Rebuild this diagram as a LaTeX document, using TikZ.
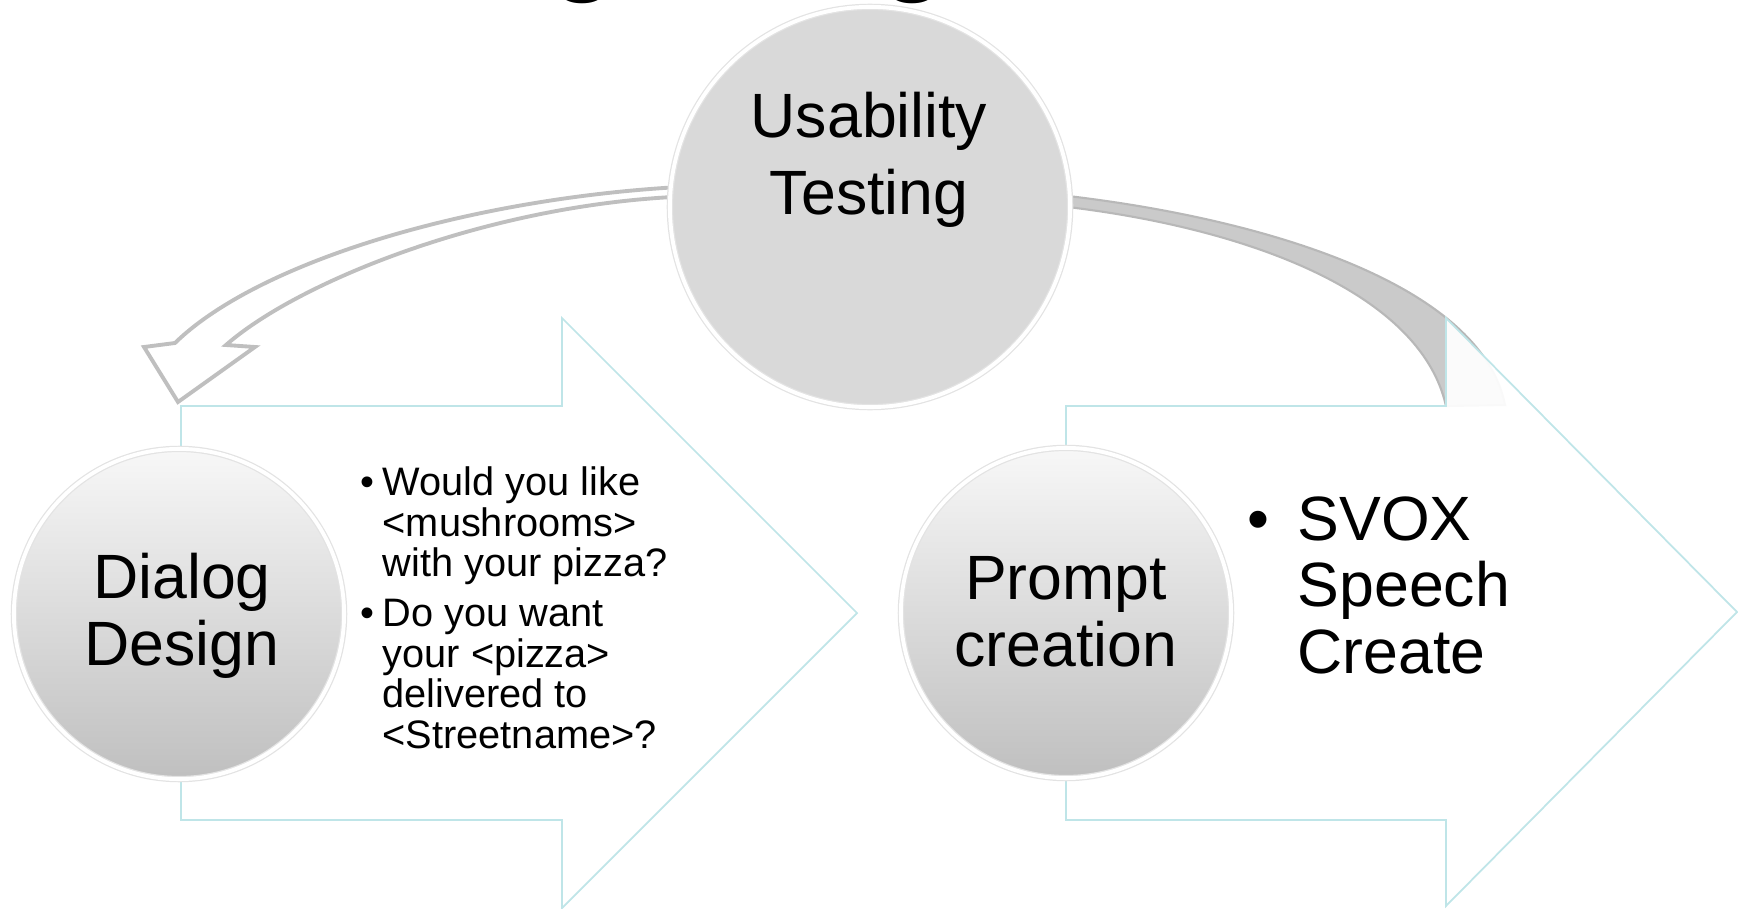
\documentclass[tikz,border=0pt]{standalone}
\usepackage{fontspec}
\setmainfont{Liberation Sans}
\usepackage{tikz}

\definecolor{arrowline}{HTML}{BFE5E8}
\definecolor{bandfill}{HTML}{CACACA}
\definecolor{bandline}{HTML}{B8B8B8}

\tikzset{
	bigarrow/.style={draw=arrowline, line width=0.5pt, fill=white, fill opacity=0.93, line join=miter},
	disc/.style={circle, inner sep=0pt, draw=gray!22, double=white, double distance=1.1pt, line width=0.35pt},
	bigtext/.style={inner sep=0pt, align=center, font=\fontsize{17.8pt}{18.8pt}\selectfont},
	smalltext/.style={inner sep=0pt, align=left, anchor=base west, font=\fontsize{11.3pt}{11.47pt}\selectfont}
}

\begin{document}
\begin{tikzpicture}[x=0.01cm, y=-0.01cm]
						\useasboundingbox (0,0) rectangle (1738,909);
						
						% Define the corners of the two big arrows
						\coordinate (A1) at (181,406);
						\coordinate (A2) at (562,406);
						\coordinate (A3) at (562,318);
						\coordinate (A4) at (857,613);
						\coordinate (A5) at (562,908);
						\coordinate (A6) at (562,820);
						\coordinate (A7) at (181,820);
						\coordinate (B1) at (1066,406);
						\coordinate (B2) at (1446,406);
						\coordinate (B3) at (1446,318);
						\coordinate (B4) at (1737,612);
						\coordinate (B5) at (1446,906);
						\coordinate (B6) at (1446,820);
						\coordinate (B7) at (1066,820);
						
						% Title letters cut by the top edge
						\node[inner sep=0pt, anchor=base, font=\fontsize{36pt}{36pt}\selectfont] (titleg1) at (584,-22) {g};
						\node[inner sep=0pt, anchor=base, font=\fontsize{36pt}{36pt}\selectfont] (titleg2) at (914,-22) {g};
						
						% Draw the curved arrows out of the top circle
						\draw[draw=gray!50, line width=1.1pt, fill=white, line join=miter]
						(700,186) .. controls (480,195) and (260,260) .. (175,343) -- (144,347) -- (178,402)
						-- (255,347) -- (226,345) .. controls (300,280) and (500,200) .. (700,196) -- cycle;
						\draw[draw=bandline, line width=0.6pt, fill=bandfill]
						(1050,194) .. controls (1250,215) and (1480,280) .. (1505,405) -- (1446,406)
						.. controls (1420,290) and (1240,225) .. (1050,205) -- cycle;
						
						% Draw the two big arrows
						\draw[bigarrow] (A1) -- (A2) -- (A3) -- (A4) -- (A5) -- (A6) -- (A7) -- cycle;
						\draw[bigarrow] (B1) -- (B2) -- (B3) -- (B4) -- (B5) -- (B6) -- (B7) -- cycle;
						
						% Draw the circles
						\node[disc, minimum size=4cm, fill=gray!30] (usability) at (870,207) {};
						\node[disc, minimum size=3.3cm, top color=gray!6, bottom color=gray!50] (dialog) at (179,614) {};
						\node[disc, minimum size=3.3cm, top color=gray!6, bottom color=gray!50] (prompt) at (1066,613) {};
						
						% Texts (base is the last line)
						\node[bigtext, anchor=base, font=\fontsize{17.8pt}{21.9pt}\selectfont] (usabilitytext) at (869,215) {Usability\\Testing};
						\node[bigtext, anchor=base] (dialogtext) at (182,665) {Dialog\\Design};
						\node[bigtext, anchor=base] (prompttext) at (1066,666) {Prompt\\creation};
						\node[smalltext] (dialogitems) at (382,748) {\llap{\textbullet\hspace{2.5pt}}Would you like\\<mushrooms>\\with your pizza?\\[2.9pt]\llap{\textbullet\hspace{2.5pt}}Do you want\\your <pizza>\\delivered to\\<Streetname>?};
						\node[bigtext, align=left, anchor=base west] (promptitems) at (1297,673) {\llap{\textbullet\hspace{8pt}}SVOX\\Speech\\Create};
					\end{tikzpicture}
\end{document}
